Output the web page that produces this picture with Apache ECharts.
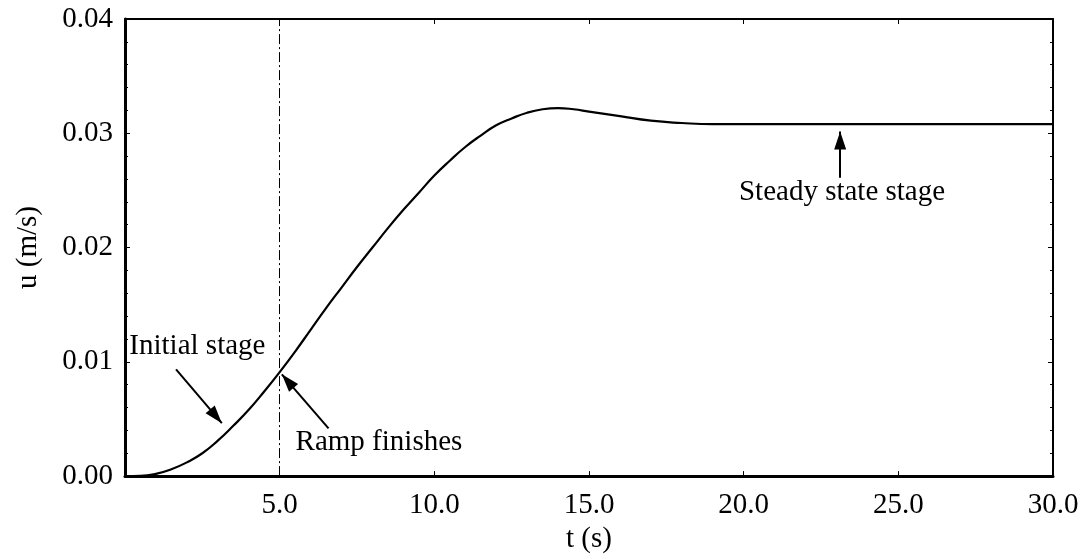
<!DOCTYPE html>
<html>
<head>
<meta charset="utf-8">
<script src="https://cdn.jsdelivr.net/npm/echarts@6/dist/echarts.min.js"></script>
<style>
  html, body { margin: 0; padding: 0; background: #fff; }
  #chart { width: 1083px; height: 559px; }
</style>
</head>
<body>
<div id="chart"></div>
<script>
// Velocity history u(t) during ramp-up and settling
const timeS = [0, 0.5, 1.0, 1.5, 2.0, 2.5, 3.0, 3.5, 4.0, 4.5, 5.0, 5.5, 6.0, 6.5, 7.0, 7.5, 8.0,
  8.5, 9.0, 9.5, 10.0, 10.5, 11.0, 11.5, 12.0, 12.5, 13.0, 13.5, 14.0, 14.5, 15.0, 16.0, 17.0,
  18.0, 19.0, 20.0, 22.0, 24.0, 26.0, 28.0, 30.0];
const velocity = [0, 0.00002, 0.0002, 0.0006, 0.0012, 0.0020, 0.0031, 0.0044, 0.0058, 0.0074, 0.0091,
  0.0109, 0.0128, 0.0147, 0.0165, 0.0183, 0.0200, 0.0217, 0.0233, 0.0248, 0.0263, 0.0276, 0.0288,
  0.0298, 0.0307, 0.0313, 0.0318, 0.0321, 0.0322, 0.0321, 0.0319, 0.0315, 0.0311, 0.0309, 0.0308,
  0.0308, 0.0308, 0.0308, 0.0308, 0.0308, 0.0308];

// End of the ramp
const rampEnd = 5.0;

// Axis ranges and tick steps
const xRange = [0, 30];
const xStep = 5;
const yRange = [0, 0.04];
const yStep = 0.01;

// Annotation texts, anchored in data coordinates [t, u]
const noteTexts = ['Initial stage', 'Ramp finishes', 'Steady state stage'];
const noteAnchors = [[2.34, 0.01138], [8.21, 0.00297], [23.18, 0.0248]];
// Annotation arrows: [tail, tip] in data coordinates
const arrowLines = [
  [[1.65, 0.00934], [3.13, 0.00463]],
  [[6.58, 0.00417], [5.07, 0.00891]],
  [[23.12, 0.02611], [23.12, 0.03016]]
];

const FONT = "'Liberation Serif', 'Times New Roman', serif";
const FS = 29;

const chart = echarts.init(document.getElementById('chart'), null, { renderer: 'canvas' });

const curve = timeS.map((t, i) => [t, velocity[i]]);

function xAxisDef(pos, showLabel, lw) {
  return {
    type: 'value', position: pos, min: xRange[0], max: xRange[1], interval: xStep,
    axisLine: { show: true, onZero: false, lineStyle: { color: '#000', width: lw } },
    axisTick: { show: true, inside: true, length: 5, lineStyle: { color: '#000', width: 1 } },
    axisLabel: {
      show: showLabel, margin: 15, color: '#000', fontFamily: FONT, fontSize: FS,
      formatter: v => (v === 0 ? '' : v.toFixed(1))
    },
    splitLine: { show: false },
    name: showLabel ? 't (s)' : '', nameLocation: 'middle', nameGap: 48,
    nameTextStyle: { color: '#000', fontFamily: FONT, fontSize: FS }
  };
}

function yAxisDef(pos, showLabel, lw) {
  return {
    type: 'value', position: pos, min: yRange[0], max: yRange[1], interval: yStep,
    axisLine: { show: true, onZero: false, lineStyle: { color: '#000', width: lw } },
    axisTick: { show: true, inside: true, length: 5, lineStyle: { color: '#000', width: 1 } },
    minorTick: { show: true, splitNumber: 5, length: 3, lineStyle: { color: '#000', width: 1 } },
    axisLabel: {
      show: showLabel, margin: 12, color: '#000', fontFamily: FONT, fontSize: FS,
      formatter: v => v.toFixed(2)
    },
    splitLine: { show: false },
    name: showLabel ? 'u (m/s)' : '', nameLocation: 'middle', nameGap: 82,
    nameTextStyle: { color: '#000', fontFamily: FONT, fontSize: FS }
  };
}

const arrowStyle = { color: '#000', width: 2, type: 'solid' };

const option = {
  backgroundColor: '#fff',
  animation: false,
  grid: { left: 125, right: 30, top: 19, bottom: 82, containLabel: false },
  xAxis: [xAxisDef('bottom', true, 3), xAxisDef('top', false, 2)],
  yAxis: [yAxisDef('left', true, 3), yAxisDef('right', false, 2)],
  series: [
    {
      type: 'line', xAxisIndex: 0, yAxisIndex: 0,
      data: curve, smooth: 0.5, showSymbol: false, symbol: 'none',
      lineStyle: { color: '#000', width: 2.2 },
      silent: true,
      markLine: {
        silent: true,
        animation: false,
        symbol: 'none',
        label: { show: false },
        data: [
          { xAxis: rampEnd, lineStyle: { color: '#000', width: 1, type: [10, 3, 2, 3] } },
          ...arrowLines.map(([a, b]) => [
            { coord: a, lineStyle: arrowStyle },
            { coord: b, symbol: 'triangle', symbolSize: [12, 18], symbolOffset: [0, 9] }
          ])
        ]
      },
      markPoint: {
        silent: true,
        animation: false,
        symbol: 'circle', symbolSize: 0,
        label: {
          show: true, position: 'inside', color: '#000', fontFamily: FONT, fontSize: FS,
          formatter: p => p.name
        },
        data: noteTexts.map((txt, i) => ({ name: txt, coord: noteAnchors[i] }))
      }
    }
  ]
};

chart.setOption(option);
</script>
</body>
</html>
